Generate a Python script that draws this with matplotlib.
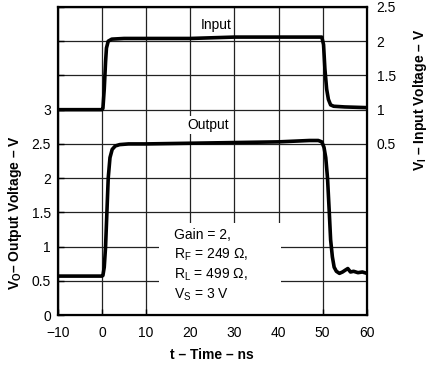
import matplotlib.pyplot as plt
from matplotlib.patches import Rectangle

plt.rcParams['font.family'] = ['Liberation Sans', 'DejaVu Sans']
plt.rcParams['mathtext.fontset'] = 'custom'
plt.rcParams['mathtext.rm'] = 'Liberation Sans'
plt.rcParams['mathtext.bf'] = 'Liberation Sans:bold'

# Input pulse (right axis, V)
t_in = [-10, 0.0, 0.2, 0.5, 0.8, 1.0, 1.4, 2.2, 5, 10, 20, 25, 30, 40, 49.8,
        50.2, 50.5, 50.9, 51.3, 51.8, 52.5, 55, 60]
v_in = [1.0, 1.0, 1.02, 1.3, 1.7, 1.9, 2.0, 2.03, 2.04, 2.04, 2.04, 2.05, 2.06,
        2.06, 2.06, 1.95, 1.6, 1.3, 1.15, 1.07, 1.05, 1.04, 1.03]

# Output pulse (left axis, V)
t_out = [-10, 0.0, 0.2, 0.5, 0.8, 1.1, 1.4, 1.8, 2.3, 3, 4, 6, 10, 20, 30, 40,
         47, 49, 49.8, 50.3, 50.7, 51.1, 51.5, 51.8, 52.2, 52.6, 53.1, 53.8,
         54.5, 55.2, 55.7, 56.3, 57, 58, 59, 60]
v_out = [0.57, 0.57, 0.58, 0.7, 1.0, 1.5, 2.0, 2.3, 2.42, 2.47, 2.49, 2.5, 2.5,
         2.51, 2.52, 2.53, 2.55, 2.55, 2.53, 2.45, 2.3, 2.0, 1.5, 1.1, 0.85,
         0.7, 0.64, 0.61, 0.63, 0.66, 0.68, 0.63, 0.64, 0.62, 0.63, 0.61]

fig = plt.figure(figsize=(4.29, 3.66), dpi=100)
ax = fig.add_axes([0.135, 0.139, 0.72, 0.842])
ax.set_axisbelow(True)

ax.set_xlim(-10, 60)
ax.set_ylim(0, 4.5)
ax.set_xticks(range(-10, 61, 10))
ax.set_xticklabels(['\u221210', '0', '10', '20', '30', '40', '50', '60'])
yt = [0, 0.5, 1, 1.5, 2, 2.5, 3, 3.5, 4, 4.5]
ax.set_yticks(yt)
ax.set_yticklabels(['0', '0.5', '1', '1.5', '2', '2.5', '3', '', '', ''])
ax.grid(True, color='#222222', linewidth=0.9)
ax.tick_params(direction='in', length=4, labelsize=10, width=1)
ax.tick_params(axis='x', pad=8)
ax.tick_params(axis='y', pad=5)
for s in ax.spines.values():
    s.set_linewidth(1.6)

ax2 = ax.twinx()
ax2.set_ylim(-2, 2.5)
ax2.set_yticks([0.5, 1, 1.5, 2, 2.5])
ax2.set_yticklabels(['0.5', '1', '1.5', '2', '2.5'])
ax2.tick_params(direction='in', length=0, labelsize=10, pad=7)

# white panel behind the conditions text
ax.add_patch(Rectangle((13, 0.02), 27.5, 1.33, facecolor='white',
                       edgecolor='none', zorder=1))

ax.plot(t_out, v_out, color='black', linewidth=2.6, zorder=3)
ax2.plot(t_in, v_in, color='black', linewidth=2.6, zorder=3)

box = dict(facecolor='white', edgecolor='none', pad=1.5)
ax.text(25.8, 4.24, 'Input', ha='center', va='center', fontsize=10,
        bbox=box, zorder=2)
ax.text(24, 2.78, 'Output', ha='center', va='center', fontsize=10,
        bbox=box, zorder=2)

lines = ['Gain = 2,', r'R$_\mathregular{F}$ = 249 Ω,',
         r'R$_\mathregular{L}$ = 499 Ω,', r'V$_\mathregular{S}$ = 3 V']
for i, s in enumerate(lines):
    ax.text(16.3, 1.17 - i * 0.29, s, ha='left', va='center', fontsize=10,
            zorder=4)

dash = '\u2013'
fig.text(212 / 429, 1 - 355 / 366, 't ' + dash + ' Time ' + dash + ' ns',
         ha='center', va='center', fontsize=10, fontweight='bold')
fig.text(15 / 429, 1 - 213 / 366,
         r'V$_\mathbf{O}$' + dash + ' Output Voltage ' + dash + ' V',
         rotation=90, ha='center', va='center', fontsize=10, fontweight='bold')
fig.text(420 / 429, 1 - 100 / 366,
         r'V$_\mathbf{I}$ ' + dash + ' Input Voltage ' + dash + ' V',
         rotation=90, ha='center', va='center', fontsize=10, fontweight='bold')

fig.savefig('out.png', dpi=100)
